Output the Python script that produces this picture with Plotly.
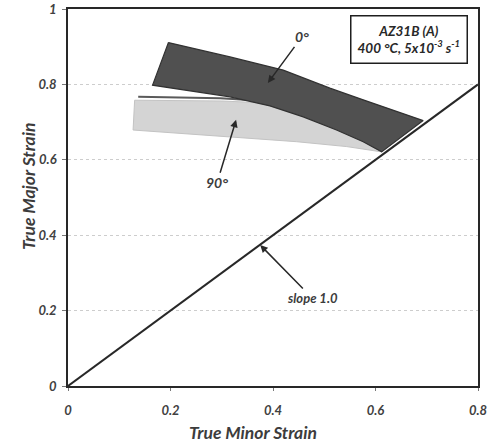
import plotly.graph_objects as go

# 0° band (dark) boundary
band0_upper_x = [0.196, 0.316, 0.42, 0.511, 0.576, 0.641, 0.693]
band0_upper_y = [0.911, 0.873, 0.838, 0.790, 0.759, 0.728, 0.704]
band0_lower_x = [0.612, 0.576, 0.524, 0.459, 0.394, 0.316, 0.165]
band0_lower_y = [0.621, 0.648, 0.679, 0.714, 0.743, 0.767, 0.798]

# 90° band (light) boundary
band90_upper_x = [0.130, 0.300, 0.381, 0.459, 0.524, 0.576, 0.612]
band90_upper_y = [0.758, 0.756, 0.751, 0.714, 0.679, 0.648, 0.621]
band90_lower_x = [0.612, 0.544, 0.446, 0.316, 0.127]
band90_lower_y = [0.621, 0.635, 0.648, 0.661, 0.679]

# top edge line of 90° band
line90_x = [0.137, 0.297, 0.37]
line90_y = [0.767, 0.763, 0.757]

# slope 1.0 reference line
slope_x = [0.0, 0.8]
slope_y = [0.0, 0.8]

fig = go.Figure()

fig.add_trace(go.Scatter(
    x=band90_upper_x + band90_lower_x + [band90_upper_x[0]],
    y=band90_upper_y + band90_lower_y + [band90_upper_y[0]],
    fill="toself", fillcolor="rgb(212,212,212)",
    line=dict(color="rgb(195,195,195)", width=1), mode="lines", hoverinfo="skip"))

fig.add_trace(go.Scatter(
    x=line90_x, y=line90_y, mode="lines",
    line=dict(color="rgb(90,90,90)", width=2), hoverinfo="skip"))

fig.add_trace(go.Scatter(
    x=band0_upper_x + band0_lower_x + [band0_upper_x[0]],
    y=band0_upper_y + band0_lower_y + [band0_upper_y[0]],
    fill="toself", fillcolor="rgb(80,80,80)",
    line=dict(color="rgb(50,50,50)", width=1.2), mode="lines", hoverinfo="skip"))

fig.add_trace(go.Scatter(
    x=slope_x, y=slope_y, mode="lines",
    line=dict(color="rgb(40,40,40)", width=2), hoverinfo="skip"))

afont = dict(family="Lato", size=14, color="rgb(60,60,60)", style="italic", weight="bold")
arrow = dict(showarrow=True, arrowhead=2, arrowsize=1, arrowwidth=1.5,
             arrowcolor="rgb(40,40,40)", xref="x", yref="y")
titlefont = dict(family="Lato", size=17.5, color="rgb(60,60,60)", style="italic", weight="bold")

annotations = [
    dict(x=0.390, y=0.804, text="0°", ax=34, ay=-46, font=afont, **arrow),
    dict(x=0.328, y=0.706, text="90°", ax=-19, ay=63, font=afont, **arrow),
    dict(x=0.375, y=0.374, text="slope 1.0", ax=52, ay=53,
         font=dict(family="Lato", size=13, color="rgb(60,60,60)", style="italic", weight="bold"),
         **arrow),
    # label box
    dict(x=0.665, y=0.918, xref="x", yref="y",
         text="AZ31B (A)<br>400 °C, 5x10<sup>-3</sup> s<sup>-1</sup>",
         showarrow=False, align="center", xanchor="center", yanchor="middle",
         font=dict(family="Lato", size=13.5, color="rgb(40,40,40)", style="italic", weight="bold"),
         bordercolor="rgb(30,30,30)", borderwidth=1.5, borderpad=6, bgcolor="white"),
    # axis titles
    dict(x=(253 - 68) / 410, y=(386 - 432) / 377, xref="paper", yref="paper",
         xanchor="center", yanchor="middle",
         text="True Minor Strain", showarrow=False, font=titlefont),
    dict(x=(28 - 68) / 410, y=(386 - 187) / 377, xref="paper", yref="paper",
         xanchor="center", yanchor="middle",
         text="True Major Strain", showarrow=False, textangle=-90, font=titlefont),
]

tickfont = dict(family="Lato", size=13, color="rgb(65,65,65)", style="italic", weight="bold")

fig.update_layout(
    width=488, height=442,
    margin=dict(l=68, r=10, t=9, b=56),
    paper_bgcolor="white", plot_bgcolor="white",
    showlegend=False,
    annotations=annotations,
    xaxis=dict(range=[0, 0.8], dtick=0.2, tickformat="~g", showgrid=False, zeroline=False,
               automargin=False,
               showline=True, linecolor="rgb(40,40,40)", linewidth=1.5, mirror=True,
               ticks="outside", ticklen=3, tickcolor="rgb(120,120,120)",
               ticklabelstandoff=9, tickfont=tickfont),
    yaxis=dict(range=[0, 1], dtick=0.2, tickformat="~g", showgrid=True,
               automargin=False,
               gridcolor="rgb(205,205,205)", griddash="dot", gridwidth=1, zeroline=False,
               showline=True, linecolor="rgb(40,40,40)", linewidth=1.5, mirror=True,
               ticks="outside", ticklen=4, tickcolor="rgb(120,120,120)",
               ticklabelstandoff=3, tickfont=tickfont),
)

fig.write_html("out.html")
